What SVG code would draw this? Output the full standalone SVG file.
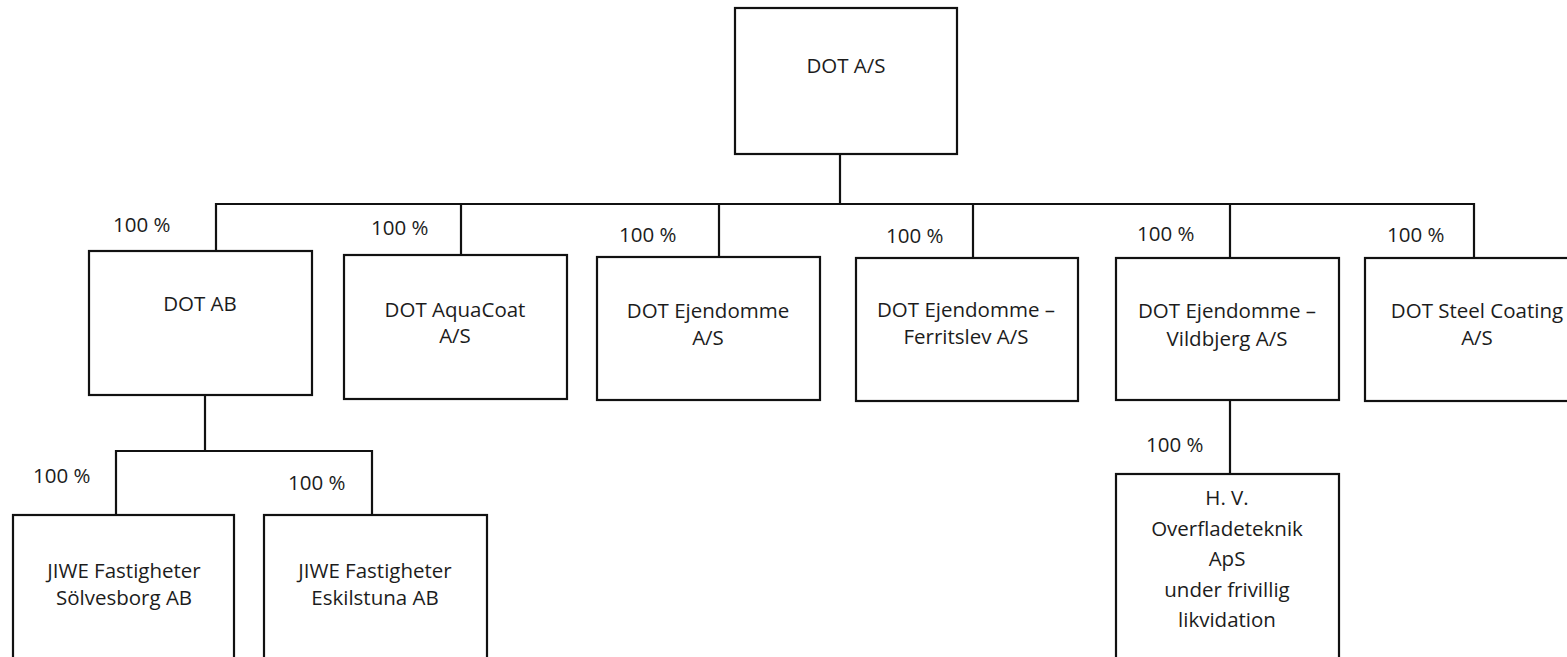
<svg xmlns="http://www.w3.org/2000/svg" width="1567" height="657" viewBox="0 0 1567 657">
<style>
.box{fill:#fff;stroke:#111;stroke-width:2.2}
.ln{fill:none;stroke:#111;stroke-width:2.2}
text{font-family:"Open Sans","Liberation Sans",sans-serif;font-size:20.5px;fill:#1c1c1c}
.c{text-anchor:middle}
</style>
<rect width="1567" height="657" fill="#fff"/>
<g id="connectors">
<path class="ln" d="M840,154 V204"/>
<path class="ln" d="M216,251 V204 H1474 V258"/>
<path class="ln" d="M461,204 V255"/>
<path class="ln" d="M719,204 V257"/>
<path class="ln" d="M973,204 V258"/>
<path class="ln" d="M1230,204 V258"/>
<path class="ln" d="M205,395 V451"/>
<path class="ln" d="M116,515 V451 H372 V515"/>
<path class="ln" d="M1230,400 V474"/>
</g>
<g id="labels">
<text x="113" y="232">100 %</text>
<text x="371" y="235">100 %</text>
<text x="619" y="242">100 %</text>
<text x="886" y="243">100 %</text>
<text x="1137" y="241">100 %</text>
<text x="1387" y="242">100 %</text>
<text x="33" y="483">100 %</text>
<text x="288" y="490">100 %</text>
<text x="1146" y="452">100 %</text>
</g>
<g id="dot-as">
<rect class="box" x="735" y="8" width="222" height="146"/>
<text class="c" x="846" y="73">DOT A/S</text>
</g>
<g id="dot-ab">
<rect class="box" x="89" y="251" width="223" height="144"/>
<text class="c" x="200" y="311">DOT AB</text>
</g>
<g id="dot-aquacoat">
<rect class="box" x="344" y="255" width="223" height="144"/>
<text class="c" x="455" y="317">DOT AquaCoat</text>
<text class="c" x="455" y="343">A/S</text>
</g>
<g id="dot-ejendomme">
<rect class="box" x="597" y="257" width="223" height="143"/>
<text class="c" x="708" y="318">DOT Ejendomme</text>
<text class="c" x="708" y="345">A/S</text>
</g>
<g id="dot-ferritslev">
<rect class="box" x="856" y="258" width="222" height="143"/>
<text class="c" x="966" y="317">DOT Ejendomme –</text>
<text class="c" x="966" y="344">Ferritslev A/S</text>
</g>
<g id="dot-vildbjerg">
<rect class="box" x="1116" y="258" width="223" height="142"/>
<text class="c" x="1227" y="318">DOT Ejendomme –</text>
<text class="c" x="1227" y="346">Vildbjerg A/S</text>
</g>
<g id="dot-steel">
<rect class="box" x="1365" y="258" width="223" height="143"/>
<text class="c" x="1477" y="318">DOT Steel Coating</text>
<text class="c" x="1477" y="345">A/S</text>
</g>
<g id="jiwe-solvesborg">
<rect class="box" x="13" y="515" width="221" height="170"/>
<text class="c" x="124" y="578">JIWE Fastigheter</text>
<text class="c" x="124" y="605">Sölvesborg AB</text>
</g>
<g id="jiwe-eskilstuna">
<rect class="box" x="264" y="515" width="223" height="170"/>
<text class="c" x="375" y="578">JIWE Fastigheter</text>
<text class="c" x="375" y="605">Eskilstuna AB</text>
</g>
<g id="hv">
<rect class="box" x="1116" y="474" width="223" height="210"/>
<text class="c" x="1227" y="505">H. V.</text>
<text class="c" x="1227" y="536">Overfladeteknik</text>
<text class="c" x="1227" y="566">ApS</text>
<text class="c" x="1227" y="597">under frivillig</text>
<text class="c" x="1227" y="627">likvidation</text>
</g>
</svg>
